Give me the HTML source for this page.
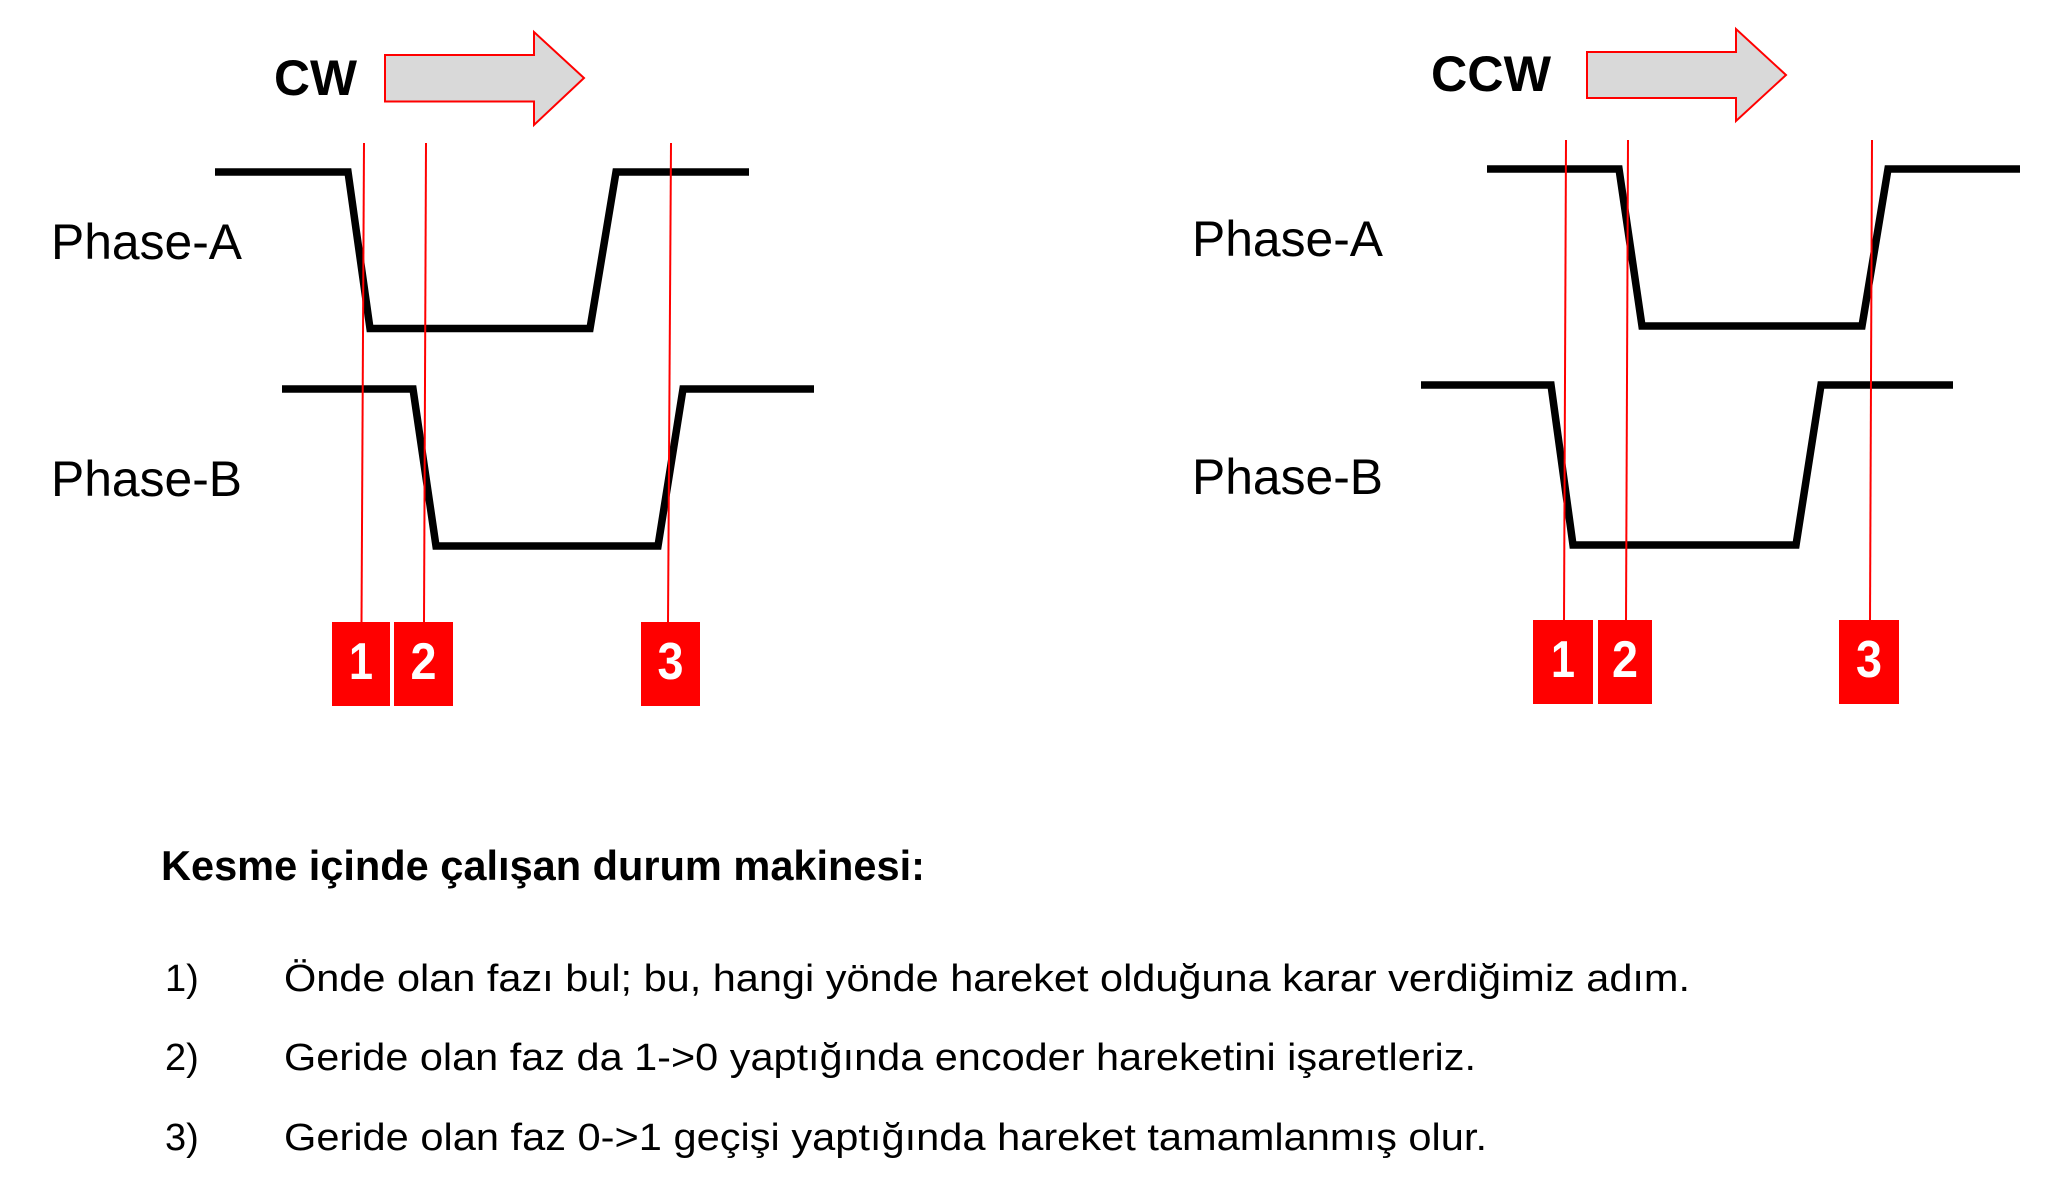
<!DOCTYPE html>
<html><head><meta charset="utf-8"><style>html,body{margin:0;padding:0;background:#fff}svg{display:block}</style></head>
<body>
<svg width="2062" height="1193" viewBox="0 0 2062 1193" xmlns="http://www.w3.org/2000/svg" font-family="Liberation Sans, Arial, sans-serif">
<rect width="2062" height="1193" fill="#fff"/>
<!-- CW -->
<text x="274" y="95" font-size="50" font-weight="bold" textLength="83" lengthAdjust="spacingAndGlyphs">CW</text>
<polygon points="385,55 534,55 534,32 584,78 534,125 534,101.5 385,101.5" fill="#d9d9d9" stroke="#ff0000" stroke-width="2"/>
<text x="51" y="259" font-size="50" textLength="191" lengthAdjust="spacingAndGlyphs">Phase-A</text>
<text x="51" y="496" font-size="50" textLength="191" lengthAdjust="spacingAndGlyphs">Phase-B</text>
<polyline points="215,172 348,172 370,328.5 590,328.5 616,172 749,172" fill="none" stroke="#000" stroke-width="7.5"/>
<polyline points="282,389 413,389 436,546 658,546 683,389 814,389" fill="none" stroke="#000" stroke-width="7.5"/>
<g stroke="#ff0000" stroke-width="2">
<line x1="364" y1="143" x2="361.5" y2="623"/>
<line x1="426" y1="143" x2="424" y2="623"/>
<line x1="671" y1="143" x2="668" y2="623"/>
</g>
<g fill="#ff0000">
<rect x="332" y="622" width="58" height="84"/>
<rect x="394" y="622" width="59" height="84"/>
<rect x="641" y="622" width="59" height="84"/>
</g>
<g fill="#fff" font-weight="bold" font-size="52" text-anchor="middle">
<text x="361" y="679" textLength="24" lengthAdjust="spacingAndGlyphs">1</text>
<text x="423.5" y="679" textLength="26" lengthAdjust="spacingAndGlyphs">2</text>
<text x="670.5" y="679" textLength="26" lengthAdjust="spacingAndGlyphs">3</text>
</g>
<!-- CCW -->
<text x="1431" y="91" font-size="50" font-weight="bold" textLength="120" lengthAdjust="spacingAndGlyphs">CCW</text>
<polygon points="1587,52 1736,52 1736,29 1786,75 1736,121 1736,98 1587,98" fill="#d9d9d9" stroke="#ff0000" stroke-width="2"/>
<text x="1192" y="256" font-size="50" textLength="191" lengthAdjust="spacingAndGlyphs">Phase-A</text>
<text x="1192" y="494" font-size="50" textLength="191" lengthAdjust="spacingAndGlyphs">Phase-B</text>
<polyline points="1487,169 1619,169 1642,326 1862,326 1888,169 2020,169" fill="none" stroke="#000" stroke-width="7.5"/>
<polyline points="1421,385 1551,385 1573,545 1796,545 1821,385 1953,385" fill="none" stroke="#000" stroke-width="7.5"/>
<g stroke="#ff0000" stroke-width="2">
<line x1="1566" y1="140" x2="1564" y2="621"/>
<line x1="1628" y1="140" x2="1626" y2="621"/>
<line x1="1872" y1="140" x2="1870" y2="621"/>
</g>
<g fill="#ff0000">
<rect x="1533" y="620" width="60" height="84"/>
<rect x="1598" y="620" width="54" height="84"/>
<rect x="1839" y="620" width="60" height="84"/>
</g>
<g fill="#fff" font-weight="bold" font-size="52" text-anchor="middle">
<text x="1563" y="677" textLength="24" lengthAdjust="spacingAndGlyphs">1</text>
<text x="1625" y="677" textLength="26" lengthAdjust="spacingAndGlyphs">2</text>
<text x="1869" y="677" textLength="26" lengthAdjust="spacingAndGlyphs">3</text>
</g>
<!-- Text -->
<text x="161" y="880" font-size="42" font-weight="bold" textLength="764" lengthAdjust="spacingAndGlyphs">Kesme içinde çalışan durum makinesi:</text>
<g font-size="38">
<text x="165" y="991">1)</text>
<text x="284" y="991" textLength="1406" lengthAdjust="spacingAndGlyphs">Önde olan fazı bul; bu, hangi yönde hareket olduğuna karar verdiğimiz adım.</text>
<text x="165" y="1070">2)</text>
<text x="284" y="1070" textLength="1192" lengthAdjust="spacingAndGlyphs">Geride olan faz da 1-&gt;0 yaptığında encoder hareketini işaretleriz.</text>
<text x="165" y="1150">3)</text>
<text x="284" y="1150" textLength="1203" lengthAdjust="spacingAndGlyphs">Geride olan faz 0-&gt;1 geçişi yaptığında hareket tamamlanmış olur.</text>
</g>
</svg>
</body></html>
